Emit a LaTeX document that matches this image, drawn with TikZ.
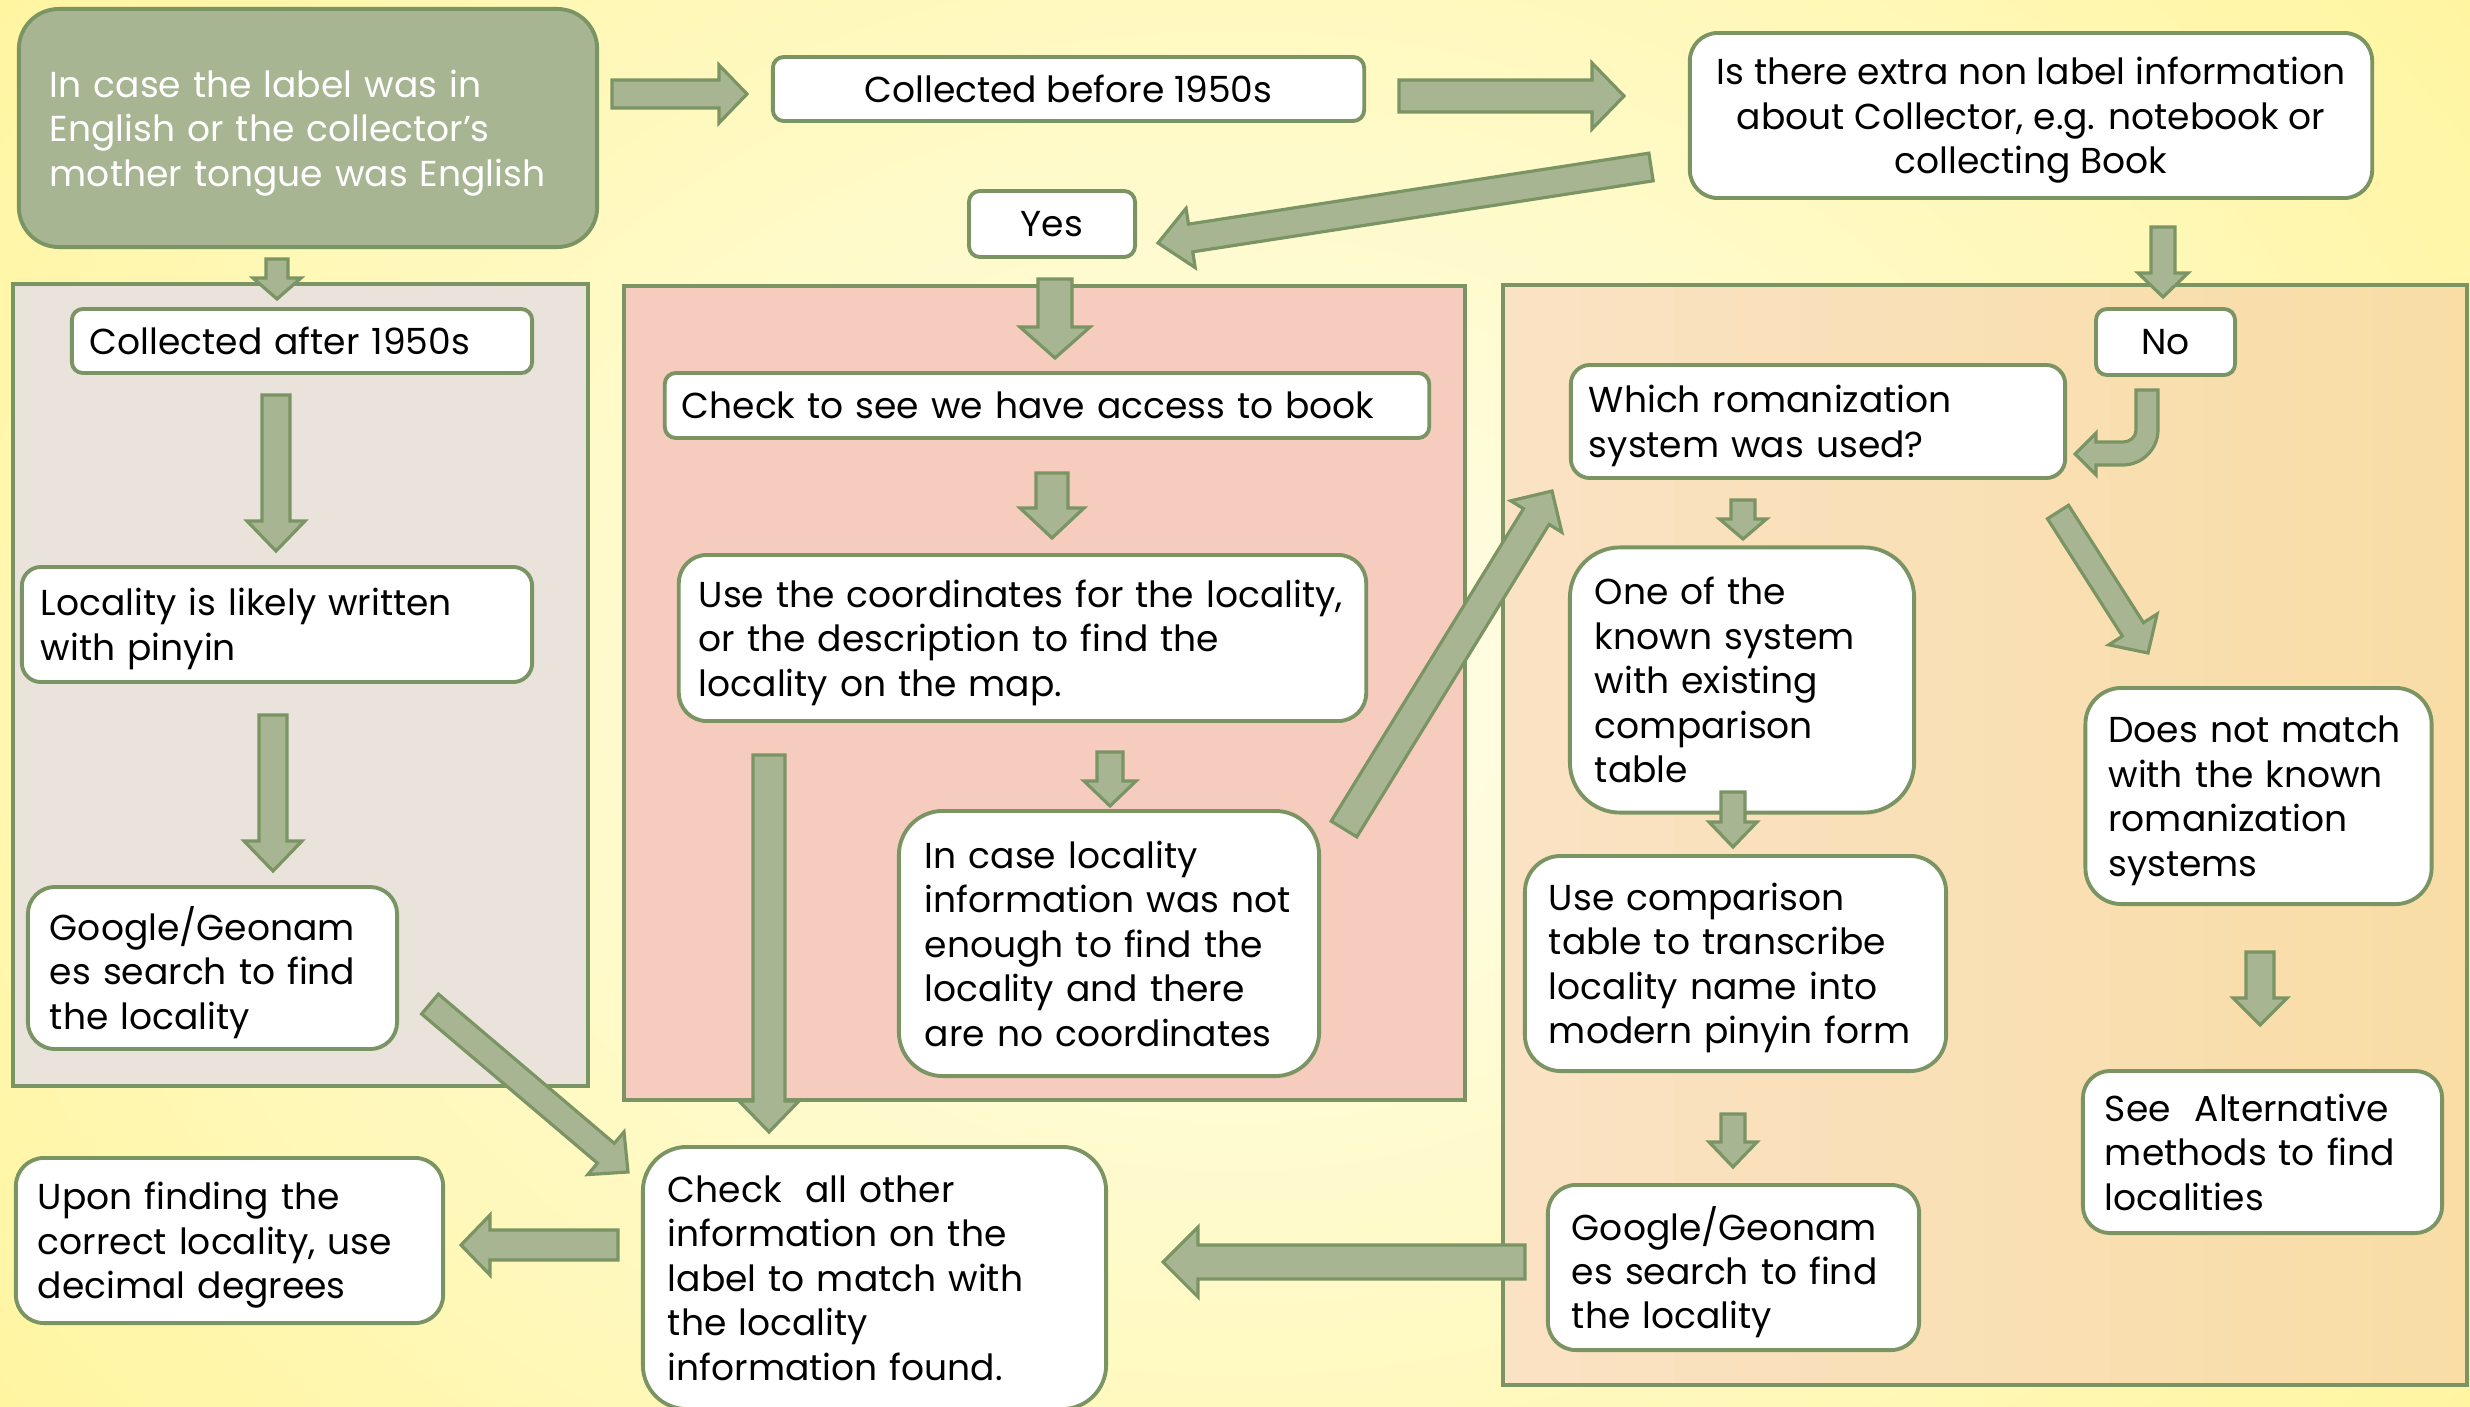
\documentclass[tikz,border=0pt]{standalone}
\usepackage{fontspec}
\setmainfont{Poppins}
\usetikzlibrary{calc}
\definecolor{gb}{HTML}{7A9463}
\definecolor{gf}{HTML}{A7B592}
\definecolor{greyp}{HTML}{E9E3DC}
\definecolor{pinkp}{HTML}{F6CCBE}
\definecolor{orl}{HTML}{FAE2C4}
\definecolor{orr}{HTML}{F9DDA5}
\definecolor{bgin}{HTML}{FFFEEC}
\definecolor{bgout}{HTML}{FFF5A0}
\newcommand\bfont{\fontsize{10.25}{12.65}\selectfont}
\newcommand\lastln[1]{\raisebox{0pt}[\height][0pt]{#1}}
\newcommand\blkarrow[5]{%
  \path ($(#2)!#5!(#1)$) coordinate (bah);
  \draw[arrowshape] ($(#1)!#3!90:(#2)$) -- ($(bah)!#3!90:(#2)$) -- ($(bah)!#4!90:(#2)$) -- (#2)
    -- ($(bah)!#4!-90:(#2)$) -- ($(bah)!#3!-90:(#2)$) -- ($(#1)!#3!-90:(#2)$) -- cycle;
}
\begin{document}
\begin{tikzpicture}[x=0.01cm, y=-0.01cm,
  box/.style={draw=gb, line width=1.1pt, fill=white, text=black, align=left, inner ysep=0pt, font=\bfont},
  cbox/.style={box, align=center, inner xsep=0pt},
  geom/.style n args={5}{minimum width=#1cm, minimum height=#2cm, rounded corners=#3cm, inner xsep=#4cm, text width=#5cm},
  arrowshape/.style={fill=gf, draw=gb, line width=0.9pt, line join=miter},
  panel/.style={draw=gb, line width=1.1pt}]
\useasboundingbox (0,0) rectangle (2470,1406);
\shade[inner color=bgin, outer color=bgout] (-300,-500) rectangle (2770,1906);

% panels
\filldraw[panel, fill=greyp] (13,284) rectangle (588,1086);
\filldraw[panel, fill=pinkp] (624,286) rectangle (1465,1100);
\shade[left color=orl, right color=orr] (1503,285) rectangle (2467,1385);
\draw[panel] (1503,285) rectangle (2467,1385);

% boxes
\node[box, geom={5.78}{2.38}{0.40}{0.31}{5.16}, fill=gf, text=white] (start) at (308,128)
  {\mbox{In case the label was in}\\\mbox{English or the collector’s}\\\lastln{mother tongue was English}};
\node[cbox, minimum width=5.91cm, minimum height=0.64cm, rounded corners=0.11cm] (before) at (1068.5,89) {Collected before 1950s};
\node[cbox, minimum width=6.82cm, minimum height=1.65cm, rounded corners=0.28cm] (question) at (2031,115.5)
  {Is there extra non label information\\about Collector, e.g. notebook or\\\lastln{collecting Book}};
\node[cbox, minimum width=1.66cm, minimum height=0.66cm, rounded corners=0.11cm] (yes) at (1052,224) {Yes};
\node[cbox, minimum width=1.39cm, minimum height=0.66cm, rounded corners=0.11cm] (no) at (2165.5,342) {No};
\node[box, geom={4.60}{0.64}{0.11}{0.18}{4.24}] (after) at (302,341) {\mbox{Collected after 1950s}};
\node[box, geom={5.10}{1.15}{0.19}{0.19}{4.72}] (pinyin) at (277,624.5)
  {\mbox{Locality is likely written}\\\lastln{with pinyin}};
\node[box, geom={3.69}{1.62}{0.27}{0.22}{3.25}] (google1) at (212.5,968)
  {\mbox{Google/Geonam}\\\mbox{es search to find}\\\lastln{the locality}};
\node[box, geom={7.64}{0.65}{0.11}{0.17}{7.30}] (access) at (1047,405.5)
  {\mbox{Check to see we have access to book}};
\node[box, geom={6.87}{1.66}{0.28}{0.20}{6.47}] (coords) at (1022.5,638)
  {\mbox{Use the coordinates for the locality,}\\\mbox{or the description to find the}\\\lastln{locality on the map.}};
\node[box, geom={4.20}{2.65}{0.44}{0.26}{3.68}] (incase) at (1109,943.5)
  {\mbox{In case locality}\\\mbox{information was not}\\\mbox{enough to find the}\\\mbox{locality and there}\\\lastln{are no coordinates}};
\node[box, geom={4.94}{1.13}{0.19}{0.18}{4.58}] (which) at (1818,421.5)
  {\mbox{Which romanization}\\\lastln{system was used?}};
\node[box, geom={3.44}{2.65}{0.50}{0.25}{2.94}] (known) at (1742,680)
  {\mbox{One of the}\\\mbox{known system}\\\mbox{with existing}\\\mbox{comparison}\\\lastln{table}};
\node[box, geom={4.21}{2.15}{0.36}{0.24}{3.73}] (usecomp) at (1735.5,963.5)
  {\mbox{Use comparison}\\\mbox{table to transcribe}\\\mbox{locality name into}\\\lastln{modern pinyin form}};
\node[box, geom={3.71}{1.65}{0.28}{0.24}{3.23}] (google2) at (1733.5,1267.5)
  {\mbox{Google/Geonam}\\\mbox{es search to find}\\\lastln{the locality}};
\node[box, geom={3.46}{2.16}{0.36}{0.23}{3.00}] (doesnot) at (2258.5,796)
  {\mbox{Does not match}\\\mbox{with the known}\\\mbox{romanization}\\\lastln{systems}};
\node[box, geom={3.59}{1.62}{0.27}{0.22}{3.15}] (seealt) at (2262.5,1152)
  {\mbox{See\ \ Alternative}\\\mbox{methods to find}\\\lastln{localities}};
\node[box, geom={4.63}{2.62}{0.44}{0.25}{4.13}] (check) at (874.5,1278)
  {\mbox{Check\ \ all other}\\\mbox{information on the}\\\mbox{label to match with}\\\mbox{the locality}\\\lastln{information found.}};
\node[box, geom={4.27}{1.65}{0.28}{0.22}{3.83}] (upon) at (229.5,1240.5)
  {\mbox{Upon finding the}\\\mbox{correct locality, use}\\\lastln{decimal degrees}};

% arrow end points
\coordinate (a1s) at (612,94);   \coordinate (a1e) at (747,94);
\coordinate (a2s) at (1399,96);  \coordinate (a2e) at (1624,96);
\coordinate (a3s) at (1651,167); \coordinate (a3e) at (1158,243);
\coordinate (a4s) at (1055,279); \coordinate (a4e) at (1055,358);
\coordinate (a5s) at (277,259);  \coordinate (a5e) at (277,299);
\coordinate (a6s) at (276,395);  \coordinate (a6e) at (276,551);
\coordinate (a7s) at (273,715);  \coordinate (a7e) at (273,871);
\coordinate (a8s) at (430,1004); \coordinate (a8e) at (628,1172);
\coordinate (a9s) at (1052,473); \coordinate (a9e) at (1052,538);
\coordinate (a10s) at (769,755); \coordinate (a10e) at (769,1132);
\coordinate (a11s) at (1110,752); \coordinate (a11e) at (1110,806);
\coordinate (a12s) at (1344,829); \coordinate (a12e) at (1552,491);
\coordinate (a13s) at (2163,227); \coordinate (a13e) at (2163,297);
\coordinate (a14s) at (1743,500); \coordinate (a14e) at (1743,539);
\coordinate (a15s) at (1733,792); \coordinate (a15e) at (1733,847);
\coordinate (a16s) at (1733,1114); \coordinate (a16e) at (1733,1167);
\coordinate (a17s) at (1525,1262); \coordinate (a17e) at (1163,1262);
\coordinate (a18s) at (2058,512); \coordinate (a18e) at (2148,653);
\coordinate (a19s) at (2260,952); \coordinate (a19e) at (2260,1025);
\coordinate (a20s) at (618,1245); \coordinate (a20e) at (461,1245);

\blkarrow{a1s}{a1e}{0.14cm}{0.29cm}{0.28cm}
\blkarrow{a2s}{a2e}{0.16cm}{0.33cm}{0.32cm}
\blkarrow{a3s}{a3e}{0.14cm}{0.30cm}{0.33cm}
\blkarrow{a4s}{a4e}{0.17cm}{0.35cm}{0.31cm}
\blkarrow{a5s}{a5e}{0.11cm}{0.24cm}{0.21cm}
\blkarrow{a6s}{a6e}{0.14cm}{0.29cm}{0.30cm}
\blkarrow{a7s}{a7e}{0.14cm}{0.29cm}{0.30cm}
\blkarrow{a8s}{a8e}{0.13cm}{0.28cm}{0.29cm}
\blkarrow{a9s}{a9e}{0.16cm}{0.32cm}{0.30cm}
\blkarrow{a10s}{a10e}{0.16cm}{0.30cm}{0.31cm}
\blkarrow{a11s}{a11e}{0.13cm}{0.26cm}{0.25cm}
\blkarrow{a12s}{a12e}{0.15cm}{0.30cm}{0.30cm}
\blkarrow{a13s}{a13e}{0.12cm}{0.25cm}{0.24cm}
\blkarrow{a14s}{a14e}{0.12cm}{0.235cm}{0.20cm}
\blkarrow{a15s}{a15e}{0.12cm}{0.24cm}{0.25cm}
\blkarrow{a16s}{a16e}{0.12cm}{0.24cm}{0.25cm}
\blkarrow{a17s}{a17e}{0.17cm}{0.35cm}{0.35cm}
\blkarrow{a18s}{a18e}{0.125cm}{0.287cm}{0.28cm}
\blkarrow{a19s}{a19e}{0.14cm}{0.27cm}{0.27cm}
\blkarrow{a20s}{a20e}{0.15cm}{0.30cm}{0.29cm}

% curved arrow from No to the romanization question
\draw[arrowshape] (2136,390) -- (2158,390) -- (2158,430)
  .. controls (2158,449) and (2142,465) .. (2123,465) -- (2096,465) -- (2096,475)
  -- (2075,454) -- (2096,433) -- (2096,442) -- (2123,442)
  .. controls (2130,442) and (2136,437) .. (2136,430) -- cycle;
\end{tikzpicture}
\end{document}
